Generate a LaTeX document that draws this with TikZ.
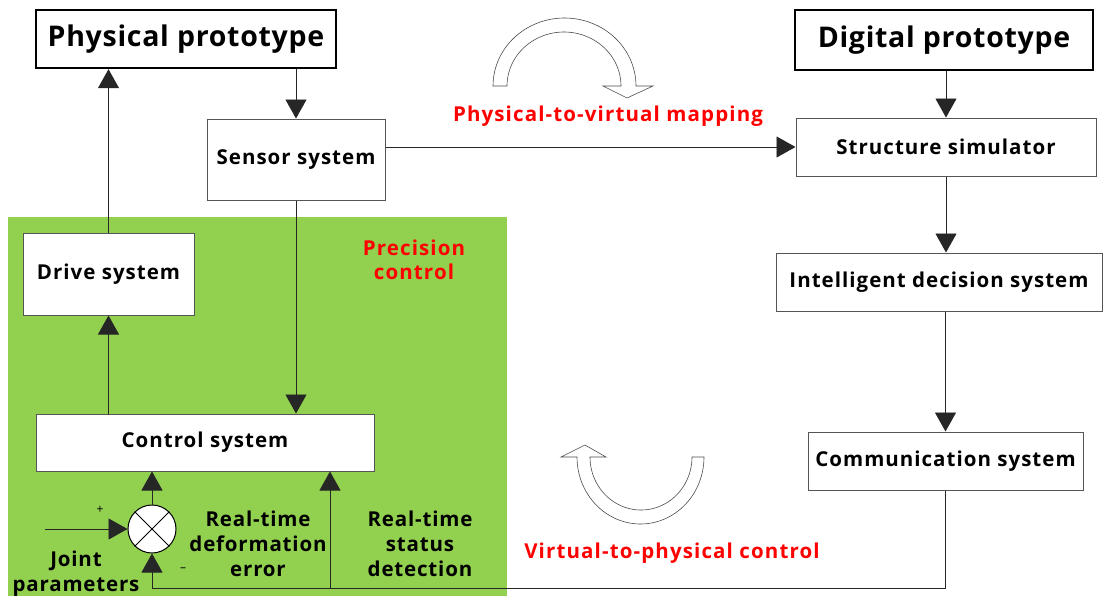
\documentclass[tikz,border=0pt]{standalone}
\usepackage{fontspec}
\setmainfont{Open Sans}
\usetikzlibrary{arrows.meta,calc}
\definecolor{zone}{HTML}{92D050}
\definecolor{boxline}{HTML}{555555}
\tikzset{
  titlebox/.style={draw=black, line width=2.4pt, fill=white, inner sep=0pt,
    font=\bfseries\fontsize{28.5}{32}\selectfont\addfontfeatures{LetterSpace=2.5}},
  sysbox/.style={draw=boxline, line width=1pt, fill=white, inner sep=0pt,
    font=\bfseries\fontsize{20.5}{24}\selectfont\addfontfeatures{LetterSpace=5}},
  flow/.style={line width=0.9pt, draw=black!85,
    -{Triangle[length=19pt,width=21pt]}},
  note/.style={font=\bfseries\fontsize{20.5}{25}\selectfont\addfontfeatures{LetterSpace=4},
    align=center, inner sep=0pt},
  rednote/.style={text=red, font=\bfseries\fontsize{20.5}{24}\selectfont\addfontfeatures{LetterSpace=5.5},
    align=center, inner sep=0pt},
  bigarrow/.style={draw=black!70, line width=0.6pt, fill=white},
}
\begin{document}
\begin{tikzpicture}[x=1pt,y=-1pt]
\useasboundingbox (0,0) rectangle (1104,595);
\fill[white] (0,0) rectangle (1104,595);

% precision-control zone
\fill[zone] (8,217) rectangle (507,598);

% blocks
\node[titlebox, minimum width=300pt, minimum height=58pt] (phys) at (186,39) {Physical prototype};
\node[titlebox, minimum width=298pt, minimum height=60pt] (digi) at (944,40) {Digital prototype};
\node[sysbox, minimum width=178pt, minimum height=81pt] (sensor) at (296,159.5) {Sensor system};
\node[sysbox, minimum width=300pt, minimum height=58pt] (struct) at (946,147) {Structure simulator};
\node[sysbox, minimum width=326pt, minimum height=58pt] (intel) at (939,282) {Intelligent decision system};
\node[sysbox, minimum width=275pt, minimum height=58pt] (comm) at (945.5,461) {Communication system};
\node[sysbox, minimum width=171pt, minimum height=82pt] (drive) at (108.5,274) {Drive system};
\node[sysbox, minimum width=338pt, minimum height=57pt] (control) at (205,442.5) {Control system};

% summing junction
\node[draw=black, line width=1pt, fill=white, circle, minimum size=48pt, inner sep=0pt] (sum) at (152,529) {};
\draw[line width=1pt] (sum.north west) -- (sum.south east) (sum.north east) -- (sum.south west);

% connectors
\draw[flow] (drive.north) -- (drive.north |- phys.south);
\draw[flow] (sensor.north |- phys.south) -- (sensor.north);
\draw[flow] (sensor.south) -- (sensor.south |- control.north);
\draw[flow] (drive.south |- control.north) -- (drive.south);
\draw[flow] (struct.west -| sensor.east) -- (struct.west);
\draw[flow] (digi.south -| struct.north) -- (struct.north);
\draw[flow] (struct.south) -- (struct.south |- intel.north);
\draw[flow] (comm.north |- intel.south) -- (comm.north);
\draw[flow] (sum.north) -- (sum.north |- control.south);

\coordinate (jin) at (45,529);
\draw[flow] (jin) -- (sum.west);

\coordinate (fbR) at (comm.south |- 0,588);
\coordinate (fbL) at (sum.south |- 0,588);
\coordinate (fbB) at (330,588);
\draw[flow] (comm.south) -- (fbR) -- (fbL) -- (sum.south);
\draw[flow] (fbB) -- (fbB |- control.south);

% signs
\node[font=\fontsize{12}{12}\selectfont, inner sep=0pt] (plus) at (100,510) {+};
\node[font=\fontsize{12}{12}\selectfont, inner sep=0pt] (minus) at (183,570) {--};

% labels
\node[note] (deferr) at (258,544) {Real-time\\deformation\\error};
\node[note] (status) at (420,544) {Real-time\\status\\detection};
\node[note] (joint) at (76,574) {Joint\\parameters};
\node[rednote] (prec) at (414,260) {Precision\\control};
\node[rednote] (p2v) at (608,116) {Physical-to-virtual mapping};
\node[rednote] (v2p) at (672,553) {Virtual-to-physical control};

% mapping arrow (physical to virtual)
\draw[bigarrow]
  plot[domain=180:0, samples=60] ({564.5+71.5*cos(\x)}, {86-68*sin(\x)})
  -- (653,86) -- (627,98) -- (603,86) -- (621,86)
  -- plot[domain=0:180, samples=60] ({564+57*cos(\x)}, {86-54*sin(\x)})
  -- cycle;

% control arrow (virtual to physical)
\draw[bigarrow]
  plot[domain=0:180, samples=60] ({640.5+63.5*cos(\x)}, {457+67*sin(\x)})
  -- (561,457) -- (585,445) -- (606,457) -- (590,457)
  -- plot[domain=180:0, samples=60] ({641+51*cos(\x)}, {457+53*sin(\x)})
  -- cycle;
\end{tikzpicture}
\end{document}
